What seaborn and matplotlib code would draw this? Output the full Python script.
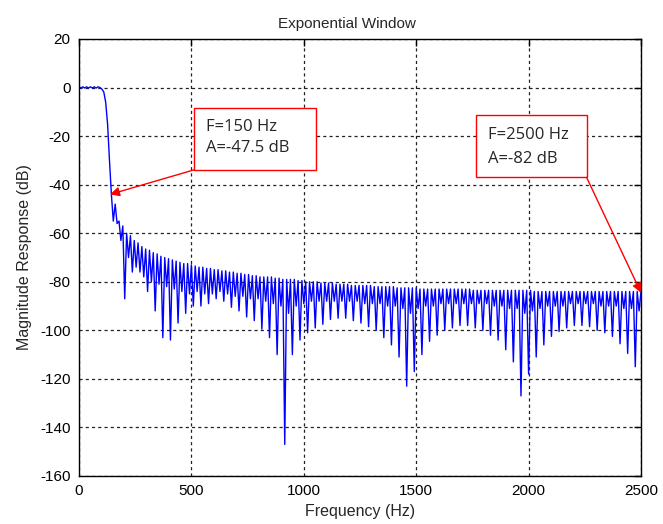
import numpy as np
import matplotlib
matplotlib.use("Agg")
import matplotlib.pyplot as plt
from matplotlib.patches import Rectangle
import seaborn as sns

# ---- data (dB), one entry per 33.9 Hz period ----
# each period holds 4 samples: trough, crest, small dip, crest
trough_db = [0.3, 0.3, 0.3, -0.6, -30, -56, -87, -76, -76, -84,
             -92, -103, -104, -97, -93, -90, -90, -89, -87, -88,
             -90.5, -92, -94.5, -96, -99.5, -103, -110, -147, -110, -104,
             -101, -99, -97.5, -95.5, -95, -95, -96, -97, -98.5, -100,
             -103, -106, -111, -123, -117, -110, -104.5, -102, -100, -99,
             -98, -98, -99, -100, -102, -104, -108, -113, -127, -118,
             -111, -106, -102.5, -100.5, -99, -98, -98, -98.5, -100, -101,
             -102.5, -105.5, -109.5, -115]
crest1_db = [-0.2, -0.2, -0.2, -1.8, -44, -55, -60, -63, -65.5, -67,
             -68.5, -70, -71, -72, -72.5, -73.5, -74, -74.5, -75, -75.5,
             -76, -76.5, -77, -77.5, -78, -78, -78.5, -79, -79, -79.5,
             -80, -80, -80.5, -80.5, -81, -81, -81.5, -81.5, -81.5, -82,
             -82, -82, -82.5, -82.5, -82.5, -83, -83, -83, -83, -83,
             -83, -83, -83.5, -83.5, -83.5, -83.5, -83.5, -83.5, -83.5, -83.5,
             -84, -84, -84, -84, -84, -84, -84, -84, -84, -84,
             -84, -84, -84, -84]
dip_db = [0.3, 0.3, 0.3, -6, -55, -63, -70, -74, -78, -80,
          -81, -82, -83, -84, -85, -84, -85, -85, -84, -85,
          -86, -86, -87, -87, -88, -89, -90, -93, -90, -89,
          -88, -88, -88, -88, -88, -88, -88, -89, -89, -89,
          -90, -90, -91, -93, -91, -90, -90, -89, -89, -89,
          -89, -89, -89, -89, -90, -90, -91, -91, -93, -92,
          -91, -90, -90, -90, -89, -89, -89, -89, -90, -90,
          -90, -91, -91, -92]
crest2_db = [-0.2, -0.2, 0.0, -15, -48, -57, -61, -64, -66.5, -68,
             -69.5, -70.5, -71.5, -72.5, -73, -74, -74.5, -75, -75.5, -76,
             -76.5, -77, -77.5, -78, -78, -78.5, -79, -79, -79.5, -80,
             -80, -80.5, -80.5, -81, -81, -81.5, -81.5, -81.5, -82, -82,
             -82, -82.5, -82.5, -82.5, -83, -83, -83, -83, -83, -83,
             -83, -83.5, -83.5, -83.5, -83.5, -83.5, -83.5, -83.5, -83.5, -84,
             -84, -84, -84, -84, -84, -84, -84, -84, -84, -84,
             -84, -84, -84, -84]

x_ticks = [0, 500, 1000, 1500, 2000, 2500]
y_ticks = [-160, -140, -120, -100, -80, -60, -40, -20, 0, 20]

mag = np.column_stack([trough_db, crest1_db, dip_db, crest2_db]).ravel()
freq = np.linspace(0, 2500, len(mag))

sns.set_style("white")
plt.rcParams['font.family'] = ['Liberation Sans', 'DejaVu Sans']
plt.rcParams['axes.unicode_minus'] = False

W, H = 663, 524
fig = plt.figure(figsize=(W / 100, H / 100), dpi=100)
fig.patch.set_facecolor('white')
L, R, T, B = 79, 641, 39, 476
ax = fig.add_axes([L / W, 1 - B / H, (R - L) / W, (B - T) / H])

sns.lineplot(x=freq, y=mag, ax=ax, color='blue', linewidth=1.0)

ax.set_xlim(0, 2500)
ax.set_ylim(-160, 20)
ax.set_xticks(x_ticks)
ax.set_yticks(y_ticks)
ax.grid(True, color='#222222', linestyle=(0, (2.5, 2.5)), linewidth=0.9)
for s in ax.spines.values():
    s.set_visible(True)
    s.set_color('black')
    s.set_linewidth(1.0)
ax.tick_params(direction='in', length=5, width=1, top=True, right=True,
               labelsize=11, colors='black', pad=6)
ax.set_xlabel('Frequency (Hz)', fontsize=11.5, labelpad=4)
ax.set_ylabel('Magnitude Response (dB)', fontsize=11.5, labelpad=6)
ax.set_title('Exponential Window', fontsize=11, pad=8)
ax.title.set_x((347 - L) / (R - L))

# annotation boxes
box_font = ['Open Sans', 'DejaVu Sans']
ax.add_patch(Rectangle((512, -33.9), 542, 25.3, facecolor='white',
                       edgecolor='red', linewidth=1.0, zorder=5))
ax.text(565, -16.1, 'F=150 Hz', family=box_font, fontsize=12, va='center', ha='left', zorder=6)
ax.text(565, -25.0, 'A=-47.5 dB', family=box_font, fontsize=12, va='center', ha='left', zorder=6)
ax.annotate('', xy=(138, -44), xytext=(512, -33.9),
            arrowprops=dict(arrowstyle='-|>', color='red', lw=1.0,
                            mutation_scale=14, shrinkA=0, shrinkB=0), zorder=6)

ax.add_patch(Rectangle((1765, -37.0), 493, 25.7, facecolor='white',
                       edgecolor='red', linewidth=1.0, zorder=5))
ax.text(1819, -19.5, 'F=2500 Hz', family=box_font, fontsize=12, va='center', ha='left', zorder=6)
ax.text(1819, -29.4, 'A=-82 dB', family=box_font, fontsize=12, va='center', ha='left', zorder=6)
ax.annotate('', xy=(2500, -84.5), xytext=(2258, -37.0),
            arrowprops=dict(arrowstyle='-|>', color='red', lw=1.0,
                            mutation_scale=14, shrinkA=0, shrinkB=0),
            zorder=6, annotation_clip=False)

fig.savefig('out.png', dpi=100, facecolor='white')
